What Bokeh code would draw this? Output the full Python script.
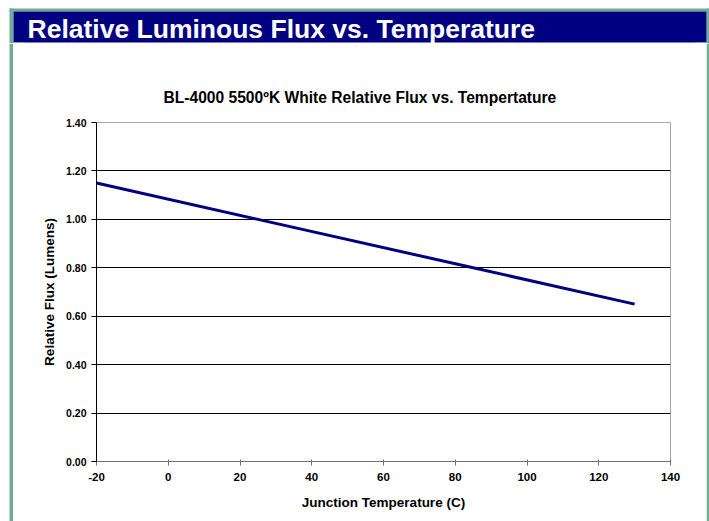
from bokeh.plotting import figure
from bokeh.models import Range1d, FixedTicker
from bokeh.layouts import column, row
from bokeh.core.properties import value
from bokeh.embed import file_html
from bokeh.resources import INLINE

# Data
temps = [-20, 25, 85, 130]
flux = [1.15, 1.00, 0.80, 0.65]

x_ticks = [-20, 0, 20, 40, 60, 80, 100, 120, 140]
x_tick_labels = ["-20", "0", "20", "40", "60", "80", "100", "120", "140"]
y_ticks = [0.0, 0.2, 0.4, 0.6, 0.8, 1.0, 1.2, 1.4]
y_tick_labels = ["0.00", "0.20", "0.40", "0.60", "0.80", "1.00", "1.20", "1.40"]

header_text = "Relative Luminous Flux vs. Temperature"
chart_title = "BL-4000 5500ºK White Relative Flux vs. Tempertature"
x_label = "Junction Temperature (C)"
y_label = "Relative Flux (Lumens)"

FONT = "Liberation Sans"
GREEN = "#70ad96"
NAVY = "#000080"
LAVENDER = "#a8a8d8"
TOTAL_W, TOTAL_H = 709, 521
HEADER_H = 43
BODY_H = TOTAL_H - HEADER_H


def deco_fig(w, h):
    f = figure(width=w, height=h, output_backend="svg", toolbar_location=None,
               x_range=Range1d(0, w), y_range=Range1d(h, 0),
               x_axis_type=None, y_axis_type=None,
               min_border_left=0, min_border_right=0, min_border_top=0, min_border_bottom=0,
               background_fill_color="white", border_fill_color="white")
    f.outline_line_color = None
    f.grid.grid_line_color = None
    f.frame_align = False
    return f


# ---- header band ----
hdr = deco_fig(TOTAL_W, HEADER_H)
hdr.quad(left=[9, 9, 706], right=[709, 13, 709], top=[8, 8, 8], bottom=[11, HEADER_H, HEADER_H],
         fill_color=GREEN, line_color=None)
hdr.quad(left=[13], right=[706], top=[11], bottom=[42], fill_color=NAVY, line_color=None)
hdr.quad(left=[13, 694], right=[25, 706], top=[42, 42], bottom=[43, 43],
         fill_color=LAVENDER, line_color=None)
hdr.text(x=[27], y=[28], text=[header_text], text_font=value(FONT), text_font_style="bold",
         text_font_size="26.5px", text_color="white", text_baseline="middle", text_align="left")

# ---- side borders ----
left_b = deco_fig(13, BODY_H)
left_b.quad(left=[9], right=[13], top=[0], bottom=[BODY_H], fill_color=GREEN, line_color=None)
right_b = deco_fig(3, BODY_H)
right_b.quad(left=[0], right=[3], top=[0], bottom=[BODY_H], fill_color=GREEN, line_color=None)

# ---- main chart ----
p = figure(width=693, height=BODY_H, output_backend="svg", toolbar_location=None,
           x_range=Range1d(-20, 140), y_range=Range1d(0, 1.4),
           min_border_left=83, min_border_right=36, min_border_top=79, min_border_bottom=60,
           background_fill_color="white", border_fill_color="white")
p.frame_align = False

p.title.text = chart_title
p.title.align = "left"
p.title.offset = 67
p.title.text_font = FONT
p.title.text_font_style = "bold"
p.title.text_font_size = "15.6px"
p.title.text_color = "black"
p.title.standoff = 34

p.outline_line_color = "#a8a8a8"
p.outline_line_width = 1

p.xgrid.grid_line_color = None
p.ygrid.grid_line_color = "black"
p.ygrid.grid_line_width = 1

p.xaxis.ticker = FixedTicker(ticks=x_ticks)
p.xaxis.major_label_overrides = {t: s for t, s in zip(x_ticks, x_tick_labels)}
p.yaxis.ticker = FixedTicker(ticks=y_ticks)
p.yaxis.major_label_overrides = {t: s for t, s in zip(y_ticks, y_tick_labels)}

for ax in (p.xaxis[0], p.yaxis[0]):
    ax.major_label_text_font = FONT
    ax.major_label_text_font_style = "bold"
    ax.major_label_text_color = "black"
    ax.axis_label_text_font = FONT
    ax.axis_label_text_font_style = "bold"
    ax.axis_label_text_font_size = "13.5px"
    ax.axis_label_text_color = "black"
    ax.minor_tick_line_color = None

p.xaxis.major_label_text_font_size = "11.5px"
p.yaxis.major_label_text_font_size = "10.5px"
p.xaxis.axis_label = x_label
p.yaxis.axis_label = y_label
p.xaxis.axis_line_color = "#707070"
p.xaxis.major_tick_line_color = "#707070"
p.xaxis.major_tick_in = 2
p.xaxis.major_tick_out = 4
p.xaxis.major_label_standoff = 7
p.xaxis.axis_label_standoff = 11
p.yaxis.axis_line_color = "black"
p.yaxis.major_tick_line_color = "black"
p.yaxis.major_tick_in = 0
p.yaxis.major_tick_out = 5
p.yaxis.major_label_standoff = 5
p.yaxis.axis_label_standoff = 6

p.line(temps, flux, line_color=NAVY, line_width=3)

layout = column(hdr, row(left_b, p, right_b, spacing=0), spacing=0)

open("out.html", "w").write(file_html(layout, INLINE))
